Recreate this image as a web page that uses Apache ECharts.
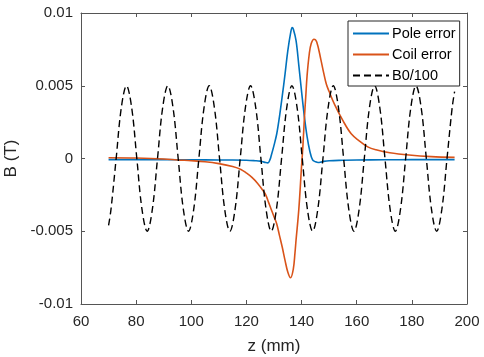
<!DOCTYPE html>
<html>
<head>
<meta charset="utf-8">
<script src="https://cdn.jsdelivr.net/npm/echarts@6/dist/echarts.min.js"></script>
<style>
  html, body { margin: 0; padding: 0; background: #fff; }
  #chart { width: 484px; height: 357px; }
</style>
</head>
<body>
<div id="chart"></div>
<script>
// z positions (mm) and field values (T)
const zPole = [70, 80, 90, 100, 110, 115, 120, 123, 125, 126, 127, 127.8, 128.5, 129, 130, 131, 132, 133, 134, 135, 136, 136.6, 137, 138, 139, 140, 141, 142, 143, 144, 145, 146, 147, 148, 150, 155, 160, 170, 180, 195.5];
const bPole = [-0.00008, -0.00008, -0.00008, -0.00009, -0.0001, -0.0001, -0.00012, -0.00015, -0.00018, -0.00023, -0.00028, -0.0003, -0.0001, 0.0002, 0.0009, 0.0017, 0.0029, 0.0043, 0.0058, 0.0074, 0.0086, 0.009, 0.0089, 0.0081, 0.0064, 0.0046, 0.0029, 0.0015, 0.0005, -0.0001, -0.00022, -0.00028, -0.00025, -0.0002, -0.00015, -0.00012, -0.0001, -0.00009, -0.00008, -0.00008];

const zCoil = [70, 80, 90, 95, 100, 105, 110, 115, 118, 120, 122, 124, 126, 127, 128, 129, 130, 131, 132, 133, 134, 135, 136, 137, 137.6, 138, 139, 140, 140.5, 141, 141.5, 142, 142.8, 143.5, 144.5, 145.5, 147, 148, 149, 150, 152, 155, 158, 161, 164, 167, 172, 179, 187, 195.5];
const bCoil = [0.00005, 0.00003, -0.00003, -0.0001, -0.00015, -0.00022, -0.00035, -0.00055, -0.00075, -0.001, -0.0013, -0.0017, -0.0022, -0.0025, -0.003, -0.0035, -0.004, -0.0045, -0.0053, -0.0061, -0.007, -0.0078, -0.0082, -0.0076, -0.0065, -0.0056, -0.0035, -0.0005, 0.0009, 0.0027, 0.0042, 0.0057, 0.0072, 0.0079, 0.0082, 0.008, 0.0068, 0.0059, 0.0051, 0.0046, 0.0037, 0.0026, 0.0017, 0.0012, 0.0008, 0.0006, 0.0004, 0.00024, 0.00013, 0.00008];

const zB0 = [70, 70.875, 72.75, 74.625, 76.5, 78.375, 80.25, 82.125, 84, 85.875, 87.75, 89.625, 91.5, 93.375, 95.25, 97.125, 99, 100.875, 102.75, 104.625, 106.5, 108.375, 110.25, 112.125, 114, 115.875, 117.75, 119.625, 121.5, 123.375, 125.25, 127.125, 129, 130.875, 132.75, 134.625, 136.5, 138.375, 140.25, 142.125, 144, 145.875, 147.75, 149.625, 151.5, 153.375, 155.25, 157.125, 159, 160.875, 162.75, 164.625, 166.5, 168.375, 170.25, 172.125, 174, 175.875, 177.75, 179.625, 181.5, 183.375, 185.25, 187.125, 189, 190.875, 192.75, 194.625, 195.5];
const bB0 = [-0.0046, -0.0035, 0, 0.0035, 0.005, 0.0035, 0, -0.0035, -0.005, -0.0035, 0, 0.0035, 0.005, 0.0035, 0, -0.0035, -0.005, -0.0035, 0, 0.0035, 0.005, 0.0035, 0, -0.0035, -0.005, -0.0035, 0, 0.0035, 0.005, 0.0035, 0, -0.0035, -0.005, -0.0035, 0, 0.0035, 0.005, 0.0035, 0, -0.0035, -0.005, -0.0035, 0, 0.0035, 0.005, 0.0035, 0, -0.0035, -0.005, -0.0035, 0, 0.0035, 0.005, 0.0035, 0, -0.0035, -0.005, -0.0035, 0, 0.0035, 0.005, 0.0035, 0, -0.0035, -0.005, -0.0035, 0, 0.0035, 0.0046];

const seriesNames = ["Pole error", "Coil error", "B0/100"];

const font = "'Liberation Sans', Arial, sans-serif";
const axisColor = "#555";
const textColor = "#262626";

function pairs(xs, ys) {
  return xs.map((x, i) => [x, ys[i]]);
}

const chart = echarts.init(document.getElementById("chart"), null, { renderer: "canvas" });

// box axes like matlab: ticks on all four sides, labels only bottom/left
const boxAxis = {
  axisLine: { show: true, onZero: false, lineStyle: { color: axisColor, width: 1 } },
  axisTick: { show: true, inside: true, length: 4, lineStyle: { color: axisColor } },
  splitLine: { show: false },
};

chart.setOption({
  animation: false,
  backgroundColor: "#fff",
  grid: { left: 81, right: 17, top: 13, bottom: 53, containLabel: false, outerBoundsMode: "none" },
  legend: {
    orient: "vertical",
    left: 348,
    top: 21,
    data: seriesNames,
    itemWidth: 36,
    itemHeight: 14,
    itemGap: 6,
    padding: [5, 4, 3, 4],
    borderColor: "#262626",
    borderWidth: 1,
    backgroundColor: "#fff",
    itemStyle: { opacity: 0 },
    textStyle: { fontFamily: font, fontSize: 14.5, color: "#000", padding: [0, 0, 0, -2] },
  },
  xAxis: [
    Object.assign({}, boxAxis, {
      type: "value",
      min: 60,
      max: 200,
      interval: 20,
      position: "bottom",
      name: "z (mm)",
      nameLocation: "middle",
      nameGap: 34,
      nameTextStyle: { fontFamily: font, fontSize: 17, color: textColor },
      axisLabel: { margin: 10, fontFamily: font, fontSize: 15, color: textColor },
    }),
    Object.assign({}, boxAxis, {
      type: "value",
      min: 60,
      max: 200,
      interval: 20,
      position: "top",
      axisLabel: { show: false },
    }),
  ],
  yAxis: [
    Object.assign({}, boxAxis, {
      type: "value",
      min: -0.01,
      max: 0.01,
      interval: 0.005,
      position: "left",
      name: "B (T)",
      nameLocation: "middle",
      nameGap: 56,
      nameTextStyle: { fontFamily: font, fontSize: 17, color: textColor },
      axisLabel: {
        margin: 8,
        fontFamily: font,
        fontSize: 15,
        color: textColor,
        formatter: (v) => String(+v.toFixed(3)),
      },
    }),
    Object.assign({}, boxAxis, {
      type: "value",
      min: -0.01,
      max: 0.01,
      interval: 0.005,
      position: "right",
      axisLabel: { show: false },
    }),
  ],
  series: [
    {
      name: seriesNames[0],
      type: "line",
      data: pairs(zPole, bPole),
      symbol: "none",
      smooth: 0.37,
      lineStyle: { color: "#0072BD", width: 1.6 },
      itemStyle: { color: "#0072BD" },
    },
    {
      name: seriesNames[1],
      type: "line",
      data: pairs(zCoil, bCoil),
      symbol: "none",
      smooth: 0.37,
      lineStyle: { color: "#D95319", width: 1.6 },
      itemStyle: { color: "#D95319" },
    },
    {
      name: seriesNames[2],
      type: "line",
      data: pairs(zB0, bB0),
      symbol: "none",
      smooth: 0.37,
      lineStyle: { color: "#000", width: 1.4, type: [7, 4] },
      itemStyle: { color: "#000" },
    },
  ],
});
</script>
</body>
</html>
